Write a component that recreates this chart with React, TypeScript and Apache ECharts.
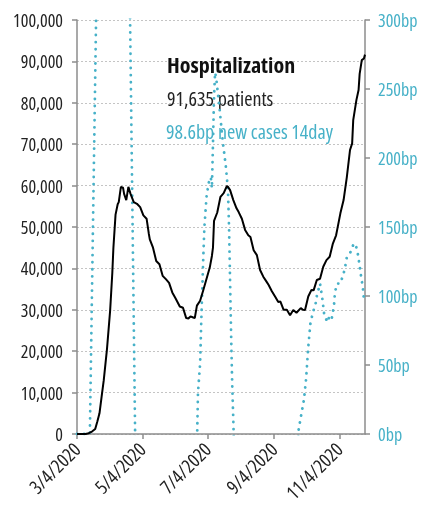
import React, { useEffect, useRef } from "react";
import * as echarts from "echarts";

// Hospitalized patients (sampled dates, 2020)
const hospDates = [
  "3/4", "3/12", "3/15", "3/18", "3/21", "3/23", "3/25", "3/27", "3/29", "4/1",
  "4/4", "4/6", "4/7", "4/9", "4/11", "4/12", "4/14", "4/16", "4/17", "4/19",
  "4/21", "4/23", "4/26", "4/29", "5/2", "5/5", "5/8", "5/10", "5/11", "5/14",
  "5/17", "5/20", "5/23", "5/26", "5/29", "6/1", "6/4", "6/8", "6/11", "6/14",
  "6/16", "6/18", "6/20", "6/22", "6/24", "6/27", "6/30", "7/3", "7/6", "7/8",
  "7/9", "7/10", "7/13", "7/16", "7/19", "7/22", "7/23", "7/25", "7/28", "7/31",
  "8/2", "8/5", "8/8", "8/11", "8/13", "8/16", "8/19", "8/22", "8/25", "8/28",
  "8/30", "9/2", "9/5", "9/8", "9/10", "9/13", "9/16", "9/19", "9/22", "9/25",
  "9/29", "10/1", "10/3", "10/6", "10/9", "10/11", "10/14", "10/17", "10/20", "10/23",
  "10/26", "10/29", "11/1", "11/2", "11/5", "11/8", "11/11", "11/14", "11/16", "11/17",
  "11/20", "11/22", "11/23", "11/25", "11/27", "11/28",
];
const hospValues = [
  0, 0, 200, 600, 1200, 3000, 5000, 9000, 13000, 20500,
  30000, 39000, 45000, 53000, 55500, 56000, 59700, 59500, 58000, 56500,
  59700, 58000, 56000, 55600, 54800, 52800, 52000, 48500, 47000, 45000,
  41800, 41000, 38200, 37400, 36500, 34200, 32800, 30800, 30500, 28000,
  27900, 28400, 28200, 28000, 31000, 32200, 34800, 37500, 40200, 43000,
  45000, 51500, 53500, 57300, 58200, 59900, 59700, 58900, 56500, 54500,
  53600, 52000, 49300, 48000, 47600, 44400, 43200, 39600, 38000, 36800,
  36000, 34500, 33200, 31900, 32000, 30000, 30000, 28700, 29950, 29300,
  30400, 30000, 29950, 33200, 34800, 34700, 37200, 37500, 40400, 42000,
  42800, 46000, 48000, 49300, 53300, 56500, 62000, 68600, 70200, 75800,
  80700, 83100, 87000, 90300, 90700, 91635,
];

// New cases 14-day change, in basis points (sampled dates, 2020)
const casesDates = [
  "3/4", "3/16", "3/22", "3/23", "4/21", "4/22", "4/27", "4/28", "6/23", "6/24",
  "6/25", "6/27", "6/28", "6/30", "7/1", "7/3", "7/5", "7/7", "7/8", "7/9",
  "7/10", "7/11", "7/12", "7/15", "7/18", "7/21", "7/23", "7/24", "7/25", "7/26",
  "7/27", "7/28", "7/29", "9/26", "9/27", "9/29", "10/2", "10/4", "10/6", "10/8",
  "10/10", "10/13", "10/14", "10/17", "10/19", "10/21", "10/24", "10/26", "10/28", "10/30",
  "10/31", "11/2", "11/5", "11/7", "11/9", "11/11", "11/14", "11/17", "11/19", "11/21",
  "11/23", "11/24", "11/26", "11/27", "11/28",
];
const casesValues = [
  0, 0, 310, 500, 500, 338, 19, -45, -45, -10,
  30, 51, 80, 129, 150, 172, 182, 186, 178, 210,
  245, 262, 258, 237, 213, 194, 177, 150, 110, 70,
  35, 10, -20, -20, 3, 12, 25, 40, 63, 80,
  87, 95, 100, 109, 99, 86, 81, 86, 84, 93,
  103, 109, 109, 114, 119, 128, 131, 137, 138, 132,
  122, 116, 106, 97, 98.6,
];

const leftTicks = { min: 0, max: 100000, interval: 10000 };
const rightTicks = { min: 0, max: 300, interval: 50 };
const labelDates = ["3/4/2020", "5/4/2020", "7/4/2020", "9/4/2020", "11/4/2020"];

const TEAL = "#47b1c8";
const FONT = "'Open Sans'";

function buildCategories(): string[] {
  const out: string[] = [];
  const start = Date.UTC(2020, 2, 4);
  const end = Date.UTC(2020, 10, 28);
  for (let t = start; t <= end; t += 86400000) {
    const d = new Date(t);
    out.push(`${d.getUTCMonth() + 1}/${d.getUTCDate()}/2020`);
  }
  return out;
}

export default function App() {
  const ref = useRef<HTMLDivElement>(null);
  useEffect(() => {
    if (!ref.current) return;
    const chart = echarts.init(ref.current, null, { renderer: "svg" });
    const cats = buildCategories();
    const idx = (s: string) => cats.indexOf(`${s}/2020`);
    const hosp = hospDates.map((d, i) => [idx(d), hospValues[i]]);
    const cases = casesDates.map((d, i) => [idx(d), casesValues[i]]);
    const showLabel = (_i: number, v: string) => labelDates.includes(v);

    chart.setOption({
      animation: false,
      textStyle: { fontFamily: FONT },
      grid: { left: 77, right: 57, top: 20, bottom: 86, containLabel: false, outerBoundsMode: "none" },
      xAxis: {
        type: "category",
        data: cats,
        boundaryGap: false,
        axisLine: { lineStyle: { color: "#8c8c8c", width: 1.5 } },
        axisTick: { show: true, interval: showLabel, length: 5, lineStyle: { color: "#8c8c8c", width: 1.5 } },
        axisLabel: {
          interval: showLabel,
          rotate: 45,
          margin: 12,
          fontSize: 19,
          color: "#222",
          fontFamily: FONT,
        },
        splitLine: { show: false },
      },
      yAxis: [
        {
          type: "value",
          ...leftTicks,
          position: "left",
          axisLine: { show: true, lineStyle: { color: "#8c8c8c", width: 1.5 } },
          axisTick: { show: true, length: 5, lineStyle: { color: "#8c8c8c", width: 1.5 } },
          axisLabel: {
            margin: 14,
            fontSize: 18,
            color: "#222",
            fontFamily: FONT,
            formatter: (v: number) => v.toLocaleString("en-US"),
          },
          splitLine: { show: true, lineStyle: { color: "#c4c4c4", type: [2, 2], width: 1 } },
        },
        {
          type: "value",
          ...rightTicks,
          position: "right",
          axisLine: { show: true, lineStyle: { color: "#8c8c8c", width: 1.5 } },
          axisTick: { show: true, length: 5, lineStyle: { color: "#8c8c8c", width: 1.5 } },
          axisLabel: {
            margin: 13,
            fontSize: 18,
            color: TEAL,
            fontFamily: FONT,
            formatter: (v: number) => `${v}bp`,
          },
          splitLine: { show: false },
        },
      ],
      graphic: [
        {
          type: "text",
          z: 1,
          style: { x: 167, y: 64, text: "Hospitalization", verticalAlign: "middle", fontFamily: FONT, fontSize: 22, fontWeight: "bold", fill: "#111" },
        },
        {
          type: "text",
          z: 1,
          style: { x: 167, y: 98, text: "91,635 patients", verticalAlign: "middle", fontFamily: FONT, fontSize: 20, fill: "#222" },
        },
        {
          type: "text",
          z: 1,
          style: { x: 166, y: 131, text: "98.6bp new cases 14day", verticalAlign: "middle", fontFamily: FONT, fontSize: 20, fill: TEAL },
        },
      ],
      series: [
        {
          type: "line",
          yAxisIndex: 1,
          data: cases,
          showSymbol: false,
          clip: true,
          z: 3,
          lineStyle: { color: TEAL, width: 2.8, type: [0.1, 7], cap: "round" },
        },
        {
          type: "line",
          yAxisIndex: 0,
          data: hosp,
          showSymbol: false,
          clip: true,
          z: 4,
          lineStyle: { color: "#000", width: 2 },
        },
      ],
    });
    return () => chart.dispose();
  }, []);
  return (
    <>
      <style>{"svg text { font-stretch: condensed !important; }"}</style>
      <div ref={ref} style={{ position: "fixed", left: 0, top: 0, width: 422, height: 520 }} />
    </>
  );
}
